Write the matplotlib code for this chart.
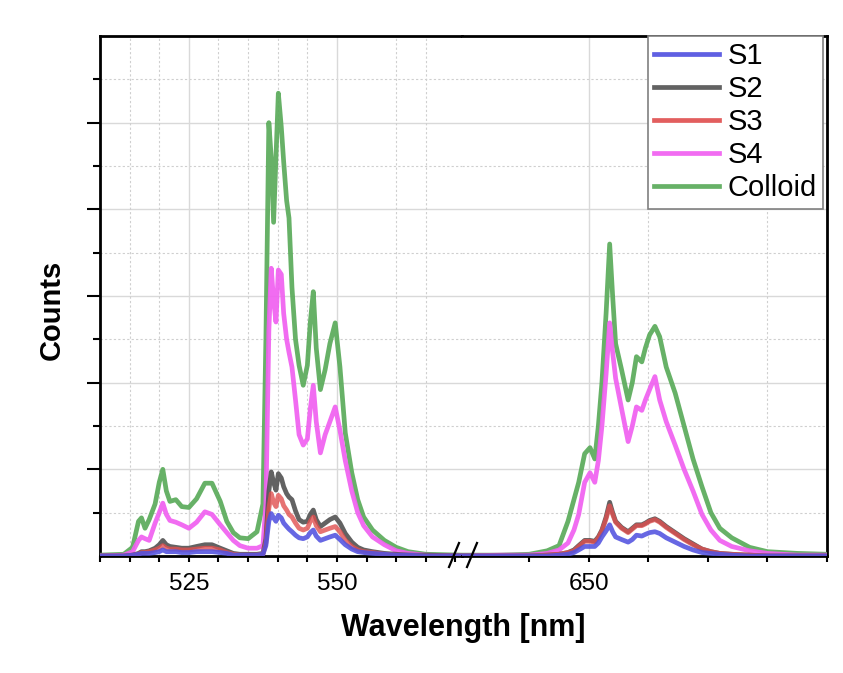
import numpy as np
import matplotlib.pyplot as plt
from matplotlib.lines import Line2D
from matplotlib.ticker import FixedLocator, FuncFormatter

plt.rcParams['font.family'] = ['Liberation Sans', 'DejaVu Sans']

# ---- data (arbitrary counts) ----
wl_left = [510, 514, 515.5, 516.5, 517.0, 517.6, 518.3, 519.3, 520.0, 520.6, 521.2, 521.8,
           522.8, 523.8, 525.0, 526.3, 527.7, 528.9, 530.3, 531.4, 532.5, 533.6, 535.0,
           536.5, 537.5, 538.0, 538.5, 538.9, 539.3, 539.7, 540.1, 540.6, 541.0, 541.5,
           541.9, 542.4, 543.0, 543.6, 544.3, 545.0, 545.5, 546.0, 546.5, 547.2, 548.0,
           548.8, 549.7, 550.5, 551.4, 552.5, 553.5, 554.5, 556.0, 558.0, 560.0, 562.0,
           565.0, 571.1]

colloid_left = [0.01, 0.02, 0.10, 0.40, 0.44, 0.32, 0.42, 0.60, 0.85, 1.00, 0.75, 0.63,
                0.65, 0.57, 0.56, 0.66, 0.84, 0.84, 0.63, 0.40, 0.27, 0.21, 0.20,
                0.28, 0.60, 2.50, 5.00, 4.60, 3.85, 4.60, 5.34, 4.95, 4.55, 4.10,
                3.90, 3.10, 2.50, 2.20, 1.97, 2.20, 2.70, 3.05, 2.40, 1.92, 2.15,
                2.45, 2.69, 2.18, 1.42, 0.96, 0.65, 0.45, 0.30, 0.18, 0.10, 0.05,
                0.02, 0.01]
s4_left = [0.00, 0.01, 0.05, 0.18, 0.22, 0.20, 0.18, 0.38, 0.50, 0.61, 0.48, 0.41,
           0.39, 0.36, 0.32, 0.39, 0.51, 0.48, 0.36, 0.27, 0.18, 0.12, 0.09,
           0.09, 0.12, 0.60, 2.60, 3.32, 2.95, 2.70, 3.30, 3.25, 2.80, 2.50,
           2.35, 2.18, 1.80, 1.40, 1.28, 1.35, 1.70, 1.97, 1.55, 1.19, 1.40,
           1.55, 1.72, 1.45, 1.10, 0.75, 0.50, 0.35, 0.22, 0.13, 0.06, 0.03,
           0.01, 0.00]
s2_left = [0.00, 0.00, 0.01, 0.03, 0.05, 0.05, 0.06, 0.09, 0.13, 0.18, 0.13, 0.11,
           0.10, 0.09, 0.09, 0.11, 0.13, 0.13, 0.09, 0.06, 0.03, 0.02, 0.02,
           0.02, 0.03, 0.20, 0.75, 0.97, 0.85, 0.76, 0.95, 0.90, 0.80, 0.72,
           0.68, 0.65, 0.52, 0.42, 0.39, 0.40, 0.48, 0.53, 0.42, 0.34, 0.38,
           0.42, 0.45, 0.38, 0.26, 0.16, 0.10, 0.07, 0.05, 0.03, 0.02, 0.01,
           0.01, 0.00]
s3_left = [0.00, 0.00, 0.01, 0.02, 0.04, 0.04, 0.05, 0.07, 0.09, 0.12, 0.09, 0.08,
           0.08, 0.07, 0.07, 0.08, 0.09, 0.09, 0.07, 0.04, 0.02, 0.01, 0.01,
           0.01, 0.02, 0.15, 0.55, 0.72, 0.62, 0.57, 0.70, 0.66, 0.58, 0.53,
           0.48, 0.45, 0.38, 0.32, 0.30, 0.32, 0.40, 0.45, 0.35, 0.28, 0.30,
           0.32, 0.34, 0.28, 0.18, 0.11, 0.07, 0.05, 0.04, 0.02, 0.01, 0.01,
           0.00, 0.00]
s1_left = [0.00, 0.00, 0.01, 0.02, 0.03, 0.03, 0.03, 0.04, 0.05, 0.07, 0.05, 0.05,
           0.05, 0.04, 0.04, 0.05, 0.05, 0.05, 0.04, 0.03, 0.01, 0.01, 0.01,
           0.01, 0.02, 0.12, 0.40, 0.49, 0.44, 0.40, 0.47, 0.44, 0.38, 0.34,
           0.31, 0.28, 0.24, 0.21, 0.20, 0.22, 0.27, 0.30, 0.23, 0.18, 0.20,
           0.22, 0.24, 0.19, 0.13, 0.08, 0.05, 0.04, 0.03, 0.02, 0.01, 0.01,
           0.00, 0.00]

wl_right = [628.7, 635, 640, 643, 645, 646.5, 647.5, 648.3, 649.3, 650.2, 651.0, 651.6,
            652.2, 652.9, 653.5, 654.0, 654.5, 655.5, 656.6, 657.3, 658.0, 658.9, 659.5,
            660.2, 661.1, 661.9, 663.0, 664.5, 666.0, 667.5, 669.0, 670.5, 672.0, 674.0,
            677.0, 680.0, 685.0, 690.0]

colloid_right = [0.01, 0.01, 0.02, 0.06, 0.12, 0.40, 0.65, 0.85, 1.18, 1.25, 1.12, 1.50,
                 2.00, 2.80, 3.60, 3.00, 2.45, 2.15, 1.80, 2.00, 2.30, 2.24, 2.40,
                 2.55, 2.65, 2.53, 2.18, 1.88, 1.50, 1.12, 0.80, 0.50, 0.32, 0.21,
                 0.10, 0.05, 0.03, 0.02]
s4_right = [0.00, 0.01, 0.01, 0.03, 0.07, 0.15, 0.30, 0.48, 0.85, 0.96, 0.85, 1.10,
            1.50, 2.10, 2.69, 2.35, 2.05, 1.70, 1.32, 1.50, 1.72, 1.68, 1.80,
            1.92, 2.07, 1.80, 1.55, 1.28, 1.00, 0.75, 0.48, 0.30, 0.18, 0.11,
            0.06, 0.03, 0.01, 0.01]
s2_right = [0.00, 0.00, 0.00, 0.01, 0.02, 0.04, 0.07, 0.12, 0.18, 0.18, 0.17, 0.22,
            0.30, 0.45, 0.62, 0.50, 0.40, 0.33, 0.28, 0.32, 0.36, 0.36, 0.38,
            0.41, 0.43, 0.40, 0.34, 0.27, 0.20, 0.14, 0.08, 0.05, 0.03, 0.02,
            0.01, 0.00, 0.00, 0.00]
s3_right = [0.00, 0.00, 0.00, 0.01, 0.02, 0.04, 0.06, 0.11, 0.17, 0.17, 0.16, 0.21,
            0.29, 0.43, 0.58, 0.48, 0.39, 0.32, 0.27, 0.31, 0.35, 0.35, 0.37,
            0.40, 0.42, 0.39, 0.33, 0.26, 0.19, 0.13, 0.08, 0.05, 0.03, 0.02,
            0.01, 0.00, 0.00, 0.00]
s1_right = [0.00, 0.00, 0.00, 0.00, 0.01, 0.02, 0.04, 0.07, 0.11, 0.11, 0.11, 0.15,
            0.22, 0.29, 0.36, 0.28, 0.22, 0.19, 0.16, 0.19, 0.24, 0.23, 0.25,
            0.27, 0.28, 0.26, 0.21, 0.16, 0.11, 0.07, 0.04, 0.03, 0.02, 0.01,
            0.00, 0.00, 0.00, 0.00]

labels = ['S1', 'S2', 'S3', 'S4', 'Colloid']
colors = ['#5252e0', '#555555', '#e05050', '#f060f0', '#5aab5a']

left_series = [s1_left, s2_left, s3_left, s4_left, colloid_left]
right_series = [s1_right, s2_right, s3_right, s4_right, colloid_right]

# ---- figure ----
W, H = 843, 673
fig = plt.figure(figsize=(W / 100, H / 100), dpi=100)
axL = fig.add_axes([100 / W, 117 / H, 362 / W, 520 / H])
axR = fig.add_axes([462 / W, 117 / H, 365 / W, 520 / H])

draw_order = [4, 3, 1, 2, 0]
alphas = [0.88, 0.92, 0.8, 0.92, 0.92]
for ax, wl, series in [(axL, wl_left, left_series), (axR, wl_right, right_series)]:
    for k, i in enumerate(draw_order):
        ax.plot(wl, series[i], color=colors[i], lw=3.4, alpha=alphas[i], label=labels[i],
                solid_joinstyle='round', zorder=3 + k)
    ax.set_ylim(0, 6)
    # horizontal grid
    for v in range(1, 6):
        ax.axhline(v, color='#d9d9d9', lw=1.0, zorder=1)
    for v in np.arange(0.5, 6, 1.0):
        ax.axhline(v, color='#cfcfcf', lw=0.8, ls=(0, (2, 2)), zorder=1)
    for s in ax.spines.values():
        s.set_linewidth(2.0)
        s.set_color('black')
    ax.tick_params(axis='x', direction='out', length=4.5, width=1.5, labelsize=17.5, pad=8)

axL.set_xlim(510, 571.1)
axR.set_xlim(628.7, 690)

# vertical grid
for v in [525, 550]:
    axL.axvline(v, color='#d9d9d9', lw=1.0, zorder=1)
for v in [515, 520, 530, 535, 540, 545, 560, 565]:
    axL.axvline(v, color='#cfcfcf', lw=0.8, ls=(0, (2, 2)), zorder=1)
axR.axvline(650, color='#d9d9d9', lw=1.0, zorder=1)
for v in [660, 680]:
    axR.axvline(v, color='#cfcfcf', lw=0.8, ls=(0, (2, 2)), zorder=1)

# x ticks
axL.xaxis.set_major_locator(FixedLocator(np.arange(510, 571, 5)))
axL.xaxis.set_major_formatter(FuncFormatter(lambda x, p: f'{x:.0f}' if round(x) in (525, 550) else ''))
axR.xaxis.set_major_locator(FixedLocator(np.arange(640, 691, 10)))
axR.xaxis.set_major_formatter(FuncFormatter(lambda x, p: f'{x:.0f}' if round(x) == 650 else ''))

# y ticks (no labels)
axL.yaxis.set_major_locator(FixedLocator([1, 2, 3, 4, 5]))
axL.yaxis.set_minor_locator(FixedLocator(np.arange(0.5, 6, 1.0)))
axL.tick_params(axis='y', which='major', direction='out', length=9.5, width=1.5, labelleft=False)
axL.tick_params(axis='y', which='minor', direction='out', length=5, width=1.5)
axR.tick_params(axis='y', left=False, labelleft=False)

axL.spines['right'].set_visible(False)
axR.spines['left'].set_visible(False)

# axis break marks
def px(x, y):
    return x / W, 1 - y / H

for x0 in (449, 467):
    (xa, ya), (xb, yb) = px(x0, 567), px(x0 + 10, 543)
    fig.add_artist(Line2D([xa, xb], [ya, yb], color='black', lw=1.6, transform=fig.transFigure))

# labels
fig.text(463 / W, 1 - 628 / H, 'Wavelength [nm]', ha='center', va='center',
         fontsize=22, fontweight='bold')
fig.text(52 / W, 1 - 310 / H, 'Counts', ha='center', va='center', rotation=90,
         fontsize=21, fontweight='bold')

# legend
handles = [Line2D([], [], color=c, lw=3.4, alpha=0.92) for c in colors]
leg = axR.legend(handles, labels, loc='upper right', bbox_to_anchor=(823 / W, 1 - 36 / H),
                 bbox_transform=fig.transFigure, borderaxespad=0, fontsize=21,
                 handlelength=2.2, handletextpad=0.3, labelspacing=0.17,
                 borderpad=0.22, fancybox=False, framealpha=1)
leg.get_frame().set_edgecolor('#808080')
leg.get_frame().set_linewidth(1.2)
leg.set_zorder(20)

fig.savefig('out.png', dpi=100)
